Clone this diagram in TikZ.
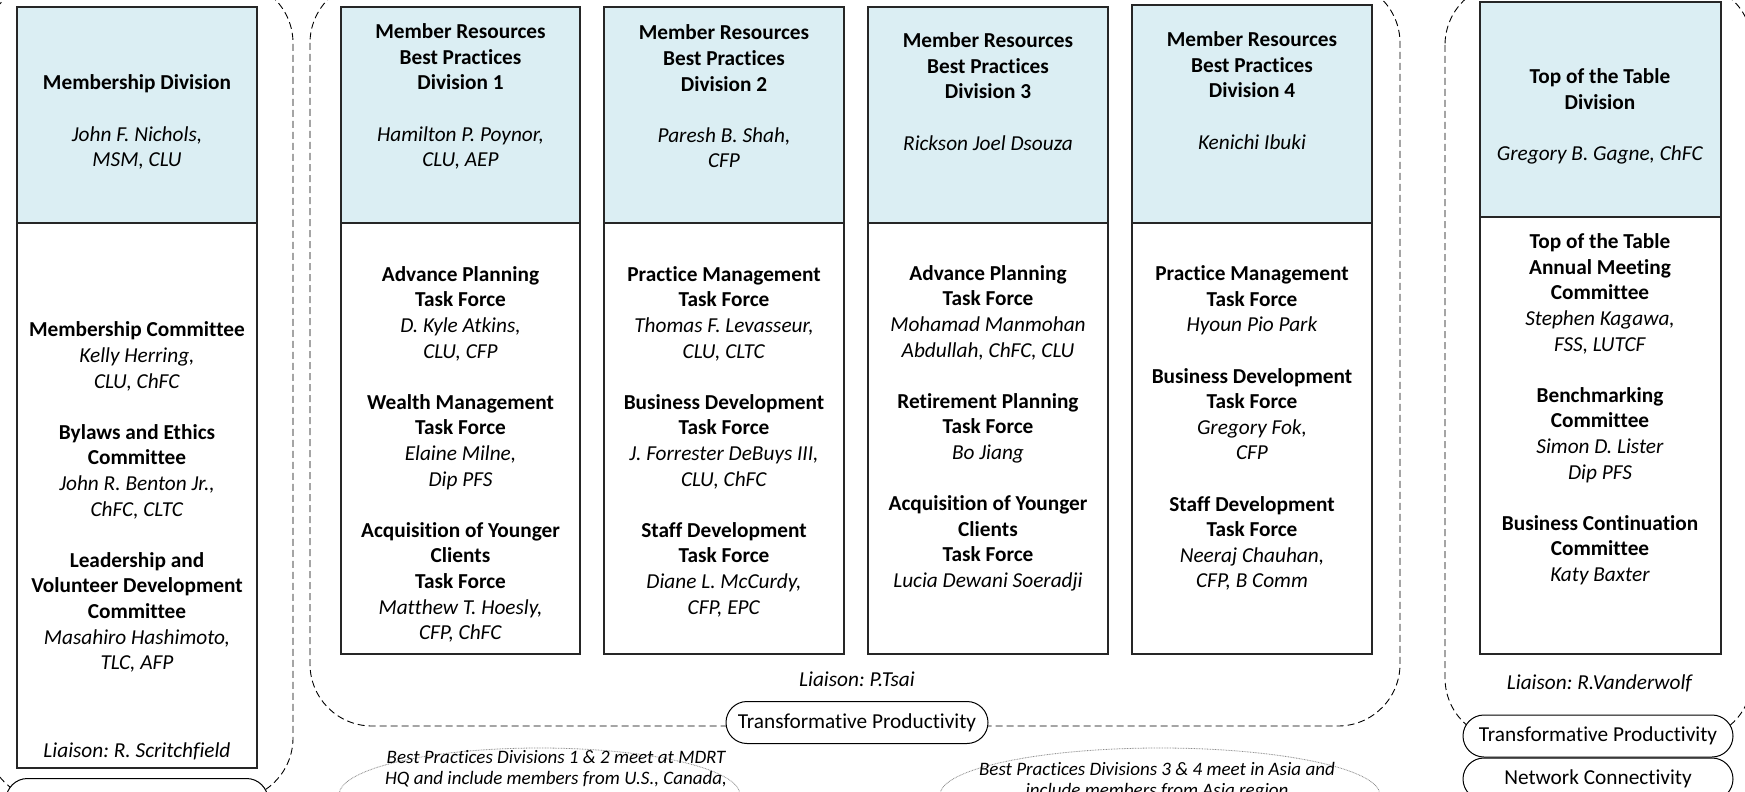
\documentclass[tikz,border=0pt]{standalone}
\usepackage{fontspec}
\setmainfont[Ligatures=NoCommon]{Carlito}
\usetikzlibrary{shapes.misc}
\definecolor{hdrblue}{RGB}{219,238,243}
\frenchspacing
\begin{document}
\begin{tikzpicture}[x=0.5pt,y=-0.5pt,
  grp/.style={draw=black, line width=0.45pt, dash pattern=on 3.5pt off 2pt},
  boxline/.style={draw=black!85, line width=0.6pt},
  hdr/.style={boxline, fill=hdrblue},
  txt/.style={align=center, font=\fontsize{10.65}{12.8}\selectfont, inner sep=0pt, yshift=-1.25pt},
  note/.style={align=center, font=\fontsize{9.5}{10.7}\selectfont\itshape, inner sep=0pt},
  oval/.style={draw=black!45, line width=0.4pt, dash pattern=on 0.4pt off 0.4pt},
  pill/.style={rounded rectangle, draw=black, line width=0.5pt, fill=white, minimum height=21pt, inner sep=0pt, font=\fontsize{10.65}{12.8}\selectfont}]
\useasboundingbox (0,0) rectangle (1745,792);
\clip (0,0) rectangle (1745,792);
\fill[white] (0,0) rectangle (1745,792);
% groups
\draw[grp, rounded corners=31pt] (-14,-19) rectangle (293,800);
\draw[grp, rounded corners=31pt] (310,-19) rectangle (1400,726);
\draw[grp, rounded corners=31pt] (1445,-17) rectangle (1752,740);
% boxes
\path[hdr] (17,7) rectangle (257,223);
\path[boxline] (17,223) rectangle (257,768);
\path[hdr] (341,7) rectangle (580,223);
\path[boxline] (341,223) rectangle (580,654);
\path[hdr] (604,7) rectangle (844,223);
\path[boxline] (604,223) rectangle (844,654);
\path[hdr] (868,7) rectangle (1108,223);
\path[boxline] (868,223) rectangle (1108,654);
\path[hdr] (1132,5) rectangle (1372,223);
\path[boxline] (1132,223) rectangle (1372,654);
\path[hdr] (1480,2) rectangle (1721,217);
\path[boxline] (1480,217) rectangle (1721,654);
% ellipses
\draw[oval] (539.5,795) ellipse [x radius=200.5, y radius=47];
\draw[oval] (1160,795) ellipse [x radius=220, y radius=47];
% pills
\node[pill, minimum width=131pt, minimum height=21.5pt] (ncl) at (137,800) {};
\node[txt, anchor=base] (ncltxt) at (137,811) {Network Connectivity};
\node[pill, minimum width=131pt] (tpm) at (857,722.5) {Transformative Productivity};
\node[pill, minimum width=135pt] (tpr) at (1598,736) {Transformative Productivity};
\node[pill, minimum width=135pt] (ncr) at (1598,779) {Network Connectivity};
% texts
\node[txt] (h0) at (137,119.6) {\textbf{Membership Division}\\[12.8pt]\textit{John F. Nichols,}\\\textit{MSM, CLU}};
\node[txt] (b0) at (137,494.7) {\textbf{Membership Committee}\\\textit{Kelly Herring,}\\\textit{CLU, ChFC}\\[12.8pt]\textbf{Bylaws and Ethics}\\\textbf{Committee}\\\textit{John R. Benton Jr.,}\\\textit{ChFC, CLTC}\\[12.8pt]\textbf{Leadership and}\\\textbf{Volunteer Development}\\\textbf{Committee}\\\textit{Masahiro Hashimoto,}\\\textit{TLC, AFP}};
\node[txt] (l0) at (137,749) {\textit{Liaison: R. Scritchfield}};

\node[txt] (h1) at (460.5,94) {\textbf{Member Resources}\\\textbf{Best Practices}\\\textbf{Division 1}\\[12.8pt]\textit{Hamilton P. Poynor,}\\\textit{CLU, AEP}};
\node[txt] (b1) at (460.5,451.8) {\textbf{Advance Planning}\\\textbf{Task Force}\\\textit{D. Kyle Atkins,}\\\textit{CLU, CFP}\\[12.8pt]\textbf{Wealth Management}\\\textbf{Task Force}\\\textit{Elaine Milne,}\\\textit{Dip PFS}\\[12.8pt]\textbf{Acquisition of Younger}\\\textbf{Clients}\\\textbf{Task Force}\\\textit{Matthew T. Hoesly,}\\\textit{CFP, ChFC}};

\node[txt] (h2) at (724,94) {\textbf{Member Resources}\\\textbf{Best Practices}\\\textbf{Division 2}\\[12.8pt]\textit{Paresh B. Shah,}\\\textit{CFP}};
\node[txt] (b2) at (724,439) {\textbf{Practice Management}\\\textbf{Task Force}\\\textit{Thomas F. Levasseur,}\\\textit{CLU, CLTC}\\[12.8pt]\textbf{Business Development}\\\textbf{Task Force}\\\textit{J. Forrester DeBuys III,}\\\textit{CLU, ChFC}\\[12.8pt]\textbf{Staff Development}\\\textbf{Task Force}\\\textit{Diane L. McCurdy,}\\\textit{CFP, EPC}};

\node[txt] (h3) at (988,89) {\textbf{Member Resources}\\\textbf{Best Practices}\\\textbf{Division 3}\\[12.8pt]\textit{Rickson Joel Dsouza}};
\node[txt] (b3) at (988,425.7) {\textbf{Advance Planning}\\\textbf{Task Force}\\\textit{Mohamad Manmohan}\\\textit{Abdullah, ChFC, CLU}\\[12.8pt]\textbf{Retirement Planning}\\\textbf{Task Force}\\\textit{Bo Jiang}\\[12.8pt]\textbf{Acquisition of Younger}\\\textbf{Clients}\\\textbf{Task Force}\\\textit{Lucia Dewani Soeradji}};

\node[txt] (h4) at (1252,88) {\textbf{Member Resources}\\\textbf{Best Practices}\\\textbf{Division 4}\\[12.8pt]\textit{Kenichi Ibuki}};
\node[txt] (b4) at (1252,425.7) {\textbf{Practice Management}\\\textbf{Task Force}\\\textit{Hyoun Pio Park}\\[12.8pt]\textbf{Business Development}\\\textbf{Task Force}\\\textit{Gregory Fok,}\\\textit{CFP}\\[12.8pt]\textbf{Staff Development}\\\textbf{Task Force}\\\textit{Neeraj Chauhan,}\\\textit{CFP, B Comm}};

\node[txt] (lm) at (857,677) {\textit{Liaison: P.Tsai}};

\node[txt] (h5) at (1600,114) {\textbf{Top of the Table}\\\textbf{Division}\\[12.8pt]\textit{Gregory B. Gagne, ChFC}};
\node[txt] (b5) at (1600,406.8) {\textbf{Top of the Table}\\\textbf{Annual Meeting}\\\textbf{Committee}\\\textit{Stephen Kagawa,}\\\textit{FSS, LUTCF}\\[12.8pt]\textbf{Benchmarking}\\\textbf{Committee}\\\textit{Simon D. Lister}\\\textit{Dip PFS}\\[12.8pt]\textbf{Business Continuation}\\\textbf{Committee}\\\textit{Katy Baxter}};
\node[txt] (lr) at (1600,681) {\textit{Liaison: R.Vanderwolf}};

\node[note] (n1) at (556,769) {Best Practices Divisions 1 \& 2 meet at MDRT\\HQ and include members from U.S., Canada,};
\node[note] (n2) at (1157,781) {Best Practices Divisions 3 \& 4 meet in Asia and\\include members from Asia region};
\end{tikzpicture}
\end{document}
